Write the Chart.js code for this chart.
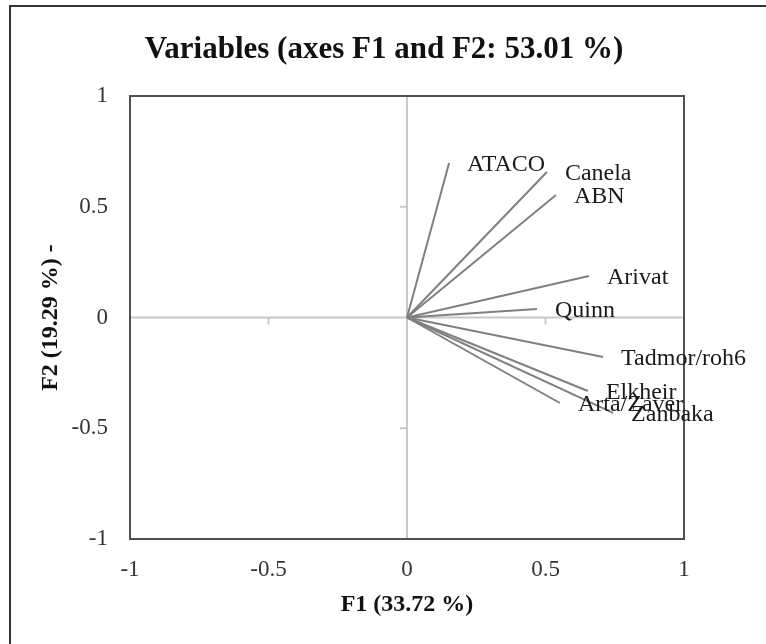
<!DOCTYPE html>
<html>
<head>
<meta charset="utf-8">
<script src="https://cdn.jsdelivr.net/npm/chart.js@4"></script>
<style>
  html, body { margin: 0; padding: 0; background: #fff; }
  #wrap { width: 766px; height: 644px; }
</style>
</head>
<body>
<div id="wrap"><canvas id="pca" width="766" height="644"></canvas></div>
<script>
// Variable loadings on F1 / F2
const varNames = ['ATACO', 'Canela', 'ABN', 'Arivat', 'Quinn', 'Tadmor/roh6', 'Elkheir', 'Arta/Zaver', 'Zanbaka'];
const f1 = [0.152, 0.505, 0.538, 0.657, 0.469, 0.708, 0.653, 0.552, 0.744];
const f2 = [0.698, 0.657, 0.553, 0.187, 0.038, -0.178, -0.332, -0.386, -0.431];
const axisTicks = [-1, -0.5, 0, 0.5, 1];
const chartTitle = 'Variables (axes F1 and F2: 53.01 %)';

const SERIF = '"Liberation Serif", "Times New Roman", serif';
const LINE_GREY = '#808080';

const datasets = varNames.map((name, i) => ({
    label: name,
    data: [{ x: 0, y: 0 }, { x: f1[i], y: f2[i] }],
    showLine: true,
    borderColor: LINE_GREY,
    borderWidth: 2,
    pointRadius: 0,
    pointHoverRadius: 0
}));

const fmtTick = v => String(v);

// frame, title, zero axes with small ticks, and vector labels
const pcaDecor = {
    id: 'pcaDecor',
    beforeDraw(chart) {
        const ctx = chart.ctx;
        ctx.save();
        ctx.fillStyle = '#fff';
        ctx.fillRect(0, 0, chart.width, chart.height);
        ctx.strokeStyle = '#333';
        ctx.lineWidth = 2;
        ctx.beginPath();
        ctx.moveTo(10, chart.height);
        ctx.lineTo(10, 6);
        ctx.lineTo(chart.width, 6);
        ctx.stroke();
        ctx.font = 'bold 31px ' + SERIF;
        ctx.fillStyle = '#111';
        ctx.textAlign = 'center';
        ctx.textBaseline = 'middle';
        ctx.fillText(chartTitle, 384, 50);
        ctx.restore();
    },
    beforeDatasetsDraw(chart) {
        const { ctx, chartArea: a, scales: { x, y } } = chart;
        const x0 = x.getPixelForValue(0);
        const y0 = y.getPixelForValue(0);
        ctx.save();
        ctx.strokeStyle = '#c8c8c8';
        ctx.lineWidth = 2;
        ctx.beginPath();
        ctx.moveTo(a.left, y0); ctx.lineTo(a.right, y0);
        ctx.moveTo(x0, a.top); ctx.lineTo(x0, a.bottom);
        axisTicks.forEach(v => {
            if (v === 0 || Math.abs(v) === 1) return;
            const px = x.getPixelForValue(v);
            ctx.moveTo(px, y0); ctx.lineTo(px, y0 + 7);
            const py = y.getPixelForValue(v);
            ctx.moveTo(x0, py); ctx.lineTo(x0 - 7, py);
        });
        ctx.stroke();
        ctx.restore();
    },
    afterDatasetsDraw(chart) {
        const { ctx, chartArea: a, scales: { x, y } } = chart;
        ctx.save();
        ctx.strokeStyle = '#505050';
        ctx.lineWidth = 2;
        ctx.strokeRect(a.left, a.top, a.right - a.left, a.bottom - a.top);
        ctx.font = '24px ' + SERIF;
        ctx.fillStyle = '#1a1a1a';
        ctx.textAlign = 'left';
        ctx.textBaseline = 'middle';
        varNames.forEach((name, i) => {
            ctx.fillText(name, x.getPixelForValue(f1[i]) + 18, y.getPixelForValue(f2[i]) + 2);
        });
        ctx.restore();
    }
};

new Chart(document.getElementById('pca'), {
    type: 'scatter',
    data: { datasets },
    plugins: [pcaDecor],
    options: {
        responsive: false,
        animation: false,
        layout: { padding: { top: 96, right: 82, left: 0, bottom: 0 } },
        plugins: {
            legend: { display: false },
            tooltip: { enabled: false },
            title: { display: false }
        },
        scales: {
            x: {
                type: 'linear',
                min: -1,
                max: 1,
                afterFit: s => { s.height = 105; },
                afterBuildTicks: s => { s.ticks = axisTicks.map(v => ({ value: v })); },
                grid: { display: false, drawTicks: false },
                border: { display: false },
                ticks: {
                    color: '#333',
                    padding: 17,
                    maxRotation: 0,
                    callback: fmtTick,
                    font: { family: SERIF, size: 23 }
                },
                title: {
                    display: true,
                    text: 'F1 (33.72 %)',
                    color: '#111',
                    font: { family: SERIF, size: 24, weight: 'bold' },
                    padding: { top: 0, bottom: 25 }
                }
            },
            y: {
                type: 'linear',
                min: -1,
                max: 1,
                afterFit: s => { s.width = 130; },
                afterBuildTicks: s => { s.ticks = axisTicks.map(v => ({ value: v })); },
                grid: { display: false, drawTicks: false },
                border: { display: false },
                ticks: {
                    color: '#333',
                    padding: 22,
                    callback: fmtTick,
                    font: { family: SERIF, size: 23 }
                },
                title: {
                    display: true,
                    text: 'F2 (19.29 %) -',
                    color: '#111',
                    font: { family: SERIF, size: 24, weight: 'bold' },
                    padding: { top: 36, bottom: 0 }
                }
            }
        }
    }
});
</script>
</body>
</html>
